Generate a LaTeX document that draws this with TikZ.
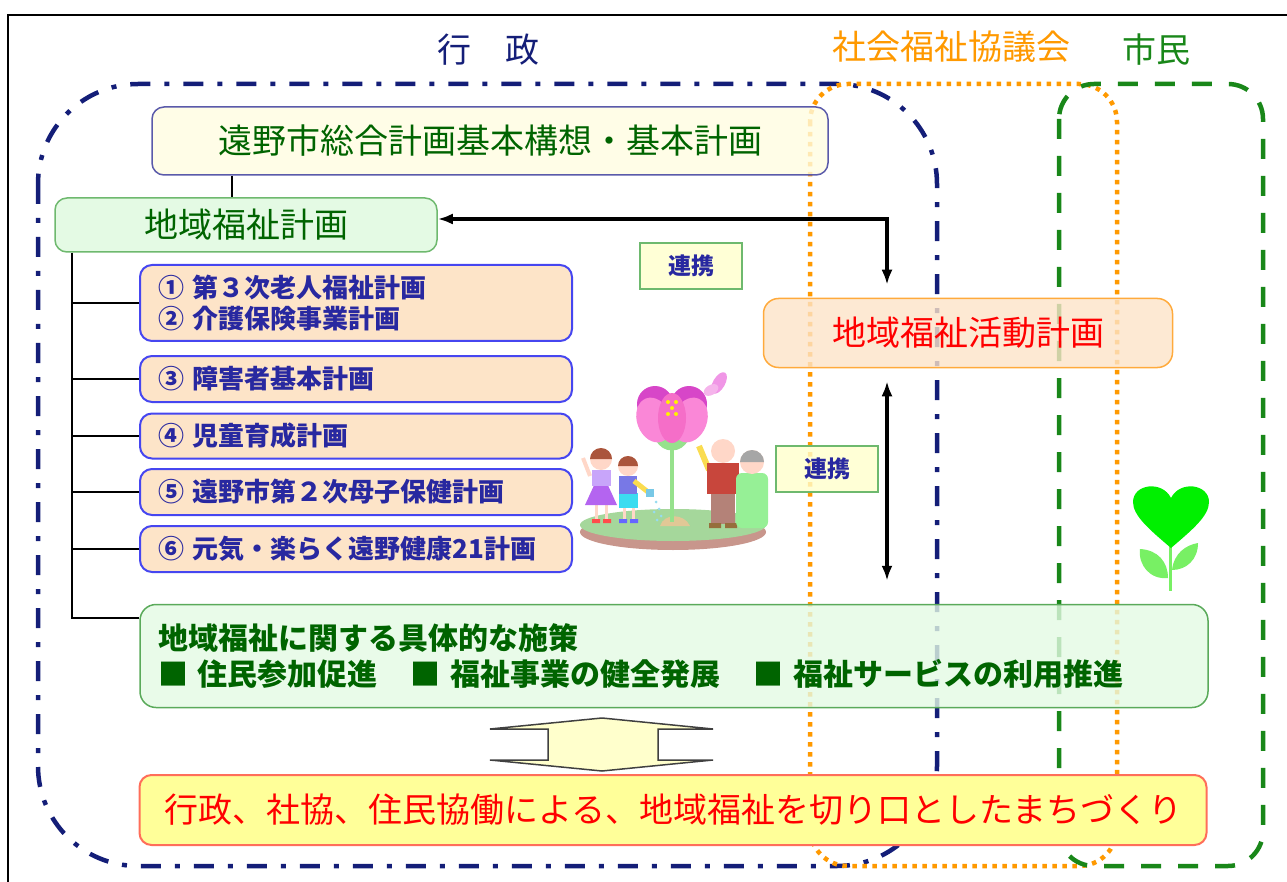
\documentclass[tikz,border=0pt]{standalone}
\usepackage{fontspec}
\setmainfont{Noto Sans CJK JP}
\usepackage{tikz}
\usetikzlibrary{arrows.meta}
\usepackage{xcolor}

\definecolor{gyoseiblue}{RGB}{20,30,120}
\definecolor{shakyoorange}{RGB}{255,153,0}
\definecolor{shimingreen}{RGB}{25,135,25}
\definecolor{plangreen}{RGB}{0,100,0}
\definecolor{planborder}{RGB}{90,90,170}
\definecolor{itemblue}{RGB}{40,40,160}
\definecolor{itemborder}{RGB}{70,70,240}
\definecolor{peach}{RGB}{253,228,200}
\definecolor{peachborder}{RGB}{255,170,60}
\definecolor{cream}{RGB}{255,253,225}
\definecolor{paleyellow}{RGB}{255,255,204}
\definecolor{lemon}{RGB}{255,255,153}
\definecolor{redborder}{RGB}{255,110,90}
\definecolor{palegreen}{RGB}{228,250,228}
\definecolor{midgreen}{RGB}{110,185,110}
\definecolor{sesakuborder}{RGB}{90,170,90}
\definecolor{skin}{RGB}{255,215,200}
\definecolor{groundrim}{RGB}{200,150,140}
\definecolor{ground}{RGB}{165,215,155}
\definecolor{sand}{RGB}{225,200,150}
\definecolor{stem}{RGB}{150,225,140}
\definecolor{petaldark}{RGB}{215,70,200}
\definecolor{petal}{RGB}{250,135,215}
\definecolor{petalmid}{RGB}{245,110,200}
\definecolor{wing}{RGB}{240,150,230}
\definecolor{wingpale}{RGB}{245,180,235}
\definecolor{hair}{RGB}{170,85,60}
\definecolor{dress}{RGB}{180,100,240}
\definecolor{blouse}{RGB}{200,165,250}
\definecolor{shorts}{RGB}{60,220,240}
\definecolor{shirt}{RGB}{120,120,230}
\definecolor{sleeve}{RGB}{250,220,80}
\definecolor{can}{RGB}{120,200,230}
\definecolor{drop}{RGB}{150,220,240}
\definecolor{vest}{RGB}{200,70,60}
\definecolor{trousers}{RGB}{180,130,120}
\definecolor{shoe}{RGB}{150,110,60}
\definecolor{gown}{RGB}{150,240,150}
\definecolor{leaf}{RGB}{120,240,100}
\definecolor{heart}{RGB}{0,240,0}

\begin{document}
\begin{tikzpicture}[x=1pt, y=-1pt,
    planbox/.style={draw, line width=1.5pt, rounded corners=12pt, inner sep=0pt, align=center,
        font=\fontsize{34}{40}\selectfont},
    itembox/.style={draw=itemborder, fill=peach, line width=2pt, rounded corners=12pt,
        minimum width=432pt, text width=396pt, inner xsep=18pt, inner ysep=0pt, align=left,
        text=itemblue, font=\fontsize{26}{31}\selectfont\bfseries},
    renkeibox/.style={draw=midgreen, fill=paleyellow, line width=1.8pt, minimum width=102pt,
        minimum height=46pt, fill opacity=0.8, text opacity=1, text=itemblue,
        font=\fontsize{23}{26}\selectfont\bfseries},
    see/.style={fill opacity=0.8, text opacity=1},
    treeline/.style={line width=2.5pt},
    link/.style={line width=4pt, {Latex[length=15pt,width=11pt]}-{Latex[length=15pt,width=11pt]}}]
    \useasboundingbox (0,0) rectangle (1287,882);
    \draw[line width=2pt] (8,882) -- (8,15) -- (1287,15);

    \draw[gyoseiblue, line width=4.5pt, dash pattern=on 20pt off 14pt on 5pt off 14pt,
        rounded corners=100pt] (38,84) rectangle (937,866);
    \draw[shakyoorange, line width=4.5pt, dash pattern=on 4.5pt off 5.5pt,
        rounded corners=38pt] (810,84) rectangle (1117,866);
    \draw[shimingreen, line width=4.5pt, dash pattern=on 20pt off 17pt,
        rounded corners=35pt] (1059,84) rectangle (1263,866);

    \node[text=gyoseiblue, font=\fontsize{34}{40}\selectfont] (gyosei) at (488,50) {行　政};
    \node[text=shakyoorange, font=\fontsize{34}{40}\selectfont] (shakyo) at (951,47) {社会福祉協議会};
    \node[text=shimingreen, font=\fontsize{34}{40}\selectfont] (shimin) at (1156,50) {市民};

    \node[planbox, see, fill=cream, draw=planborder, text=plangreen,
        minimum width=676pt, minimum height=68pt] (kihon) at (490,141) {遠野市総合計画基本構想・基本計画};
    \node[planbox, fill=palegreen, draw=midgreen, text=plangreen,
        minimum width=382pt, minimum height=54pt] (chiiki) at (246,225) {地域福祉計画};

    \node[itembox, minimum height=76pt] (item1) at (356,303) {① 第３次老人福祉計画\\② 介護保険事業計画};
    \node[itembox, minimum height=46pt] (item2) at (356,379) {③ 障害者基本計画};
    \node[itembox, minimum height=45pt] (item3) at (356,436) {④ 児童育成計画};
    \node[itembox, minimum height=46pt] (item4) at (356,492) {⑤ 遠野市第２次母子保健計画};
    \node[itembox, minimum height=46pt] (item5) at (356,549) {⑥ 元気・楽らく遠野健康21計画};

    \node[renkeibox] (renkei1) at (691,266) {連携};
    \node[renkeibox] (renkei2) at (827,469) {連携};

    \node[planbox, see, fill=peach, draw=peachborder, text=red,
        rounded corners=15pt, minimum width=409pt, minimum height=69pt] (katsudo) at (968,333) {地域福祉活動計画};

    \node[draw=sesakuborder, see, fill=palegreen, line width=1.5pt, rounded corners=16pt,
        minimum width=1068pt, minimum height=103pt, text width=1032pt, inner xsep=18pt, inner ysep=0pt,
        align=left, text=plangreen, font=\fontsize{30}{36}\selectfont\bfseries] (sesaku) at (674,656)
        {地域福祉に関する具体的な施策\\■ 住民参加促進\hspace{1.1em}■ 福祉事業の健全発展\hspace{1.1em}■ 福祉サービスの利用推進};

    \node[planbox, fill=lemon, draw=redborder, line width=2pt, text=red, font=\fontsize{34}{40}\selectfont,
        minimum width=1067pt, minimum height=70pt] (machi) at (673,810)
        {行政、社協、住民協働による、地域福祉を切り口としたまちづくり};

    \draw[line width=2pt] (232,0 |- kihon.south) -- (232,0 |- chiiki.north);
    \draw[treeline] (72,0 |- chiiki.south) -- (72,618) -- (sesaku.west |- 0,618);
    \foreach \n in {item1,item2,item3,item4,item5}
        \draw[treeline] (72,0 |- \n.west) -- (\n.west);
    \draw[link, shorten >=13pt] (chiiki.east |- 0,219) -| (887,0 |- katsudo.north);
    \draw[link, shorten <=13pt, shorten >=23pt] (887,0 |- katsudo.south) -- (887,0 |- sesaku.north);

    \draw[line width=1.5pt, draw=black!75, fill=paleyellow] (602,718) -- (713,729) -- (658,729)
        -- (658,760) -- (713,760) -- (602,771) -- (490,760) -- (548,760) -- (548,729) -- (490,729) -- cycle;

    % flower and people
    \fill[groundrim] (673,532) ellipse [x radius=93pt, y radius=18pt];
    \fill[ground] (673,525) ellipse [x radius=93pt, y radius=16pt];
    \fill[sand] (660,526) .. controls (664,513) and (684,513) .. (690,526) -- cycle;
    \draw[line width=4pt, stem] (672,446) -- (672,522);
    \fill[stem] (656,440) .. controls (662,454) and (682,454) .. (688,440) -- cycle;
    \fill[petaldark] (655,404) circle (18pt) (689,404) circle (18pt);
    \fill[petal] (654,420) ellipse [x radius=17pt, y radius=23pt, rotate=20];
    \fill[petal] (690,420) ellipse [x radius=17pt, y radius=23pt, rotate=-20];
    \fill[petalmid] (672,418) ellipse [x radius=14pt, y radius=25pt];
    \foreach \p in {(668,402),(676,402),(672,408),(668,414),(676,414)}
        \fill[yellow] \p circle (2pt);
    \fill[wing] (719,383) ellipse [x radius=6pt, y radius=12pt, rotate=-30];
    \fill[wingpale] (711,390) ellipse [x radius=5pt, y radius=8pt, rotate=-60];

    \draw[line width=4pt, skin] (590,476) -- (583,458);
    \draw[line width=3pt, skin] (596,504) -- (596,520) (606,504) -- (606,520);
    \fill[dress] (601,470) -- (585,505) -- (617,505) -- cycle;
    \fill[blouse] (592,470) rectangle (611,486);
    \fill[skin] (601,459) circle (11pt);
    \fill[hair] (590,459) arc[start angle=180, end angle=0, radius=11pt] -- cycle;
    \fill[red!70] (592,519) rectangle (600,523) (603,519) rectangle (611,523);

    \draw[line width=3pt, skin] (624,506) -- (624,520) (633,506) -- (633,520);
    \fill[shorts] (619,493) rectangle (638,508);
    \fill[shirt] (619,476) rectangle (637,494);
    \draw[line width=5pt, sleeve] (634,481) -- (648,492);
    \fill[can] (646,489) rectangle (654,497);
    \foreach \p in {(656,502),(659,509),(654,512),(661,516),(657,520)}
        \fill[drop] \p circle (1.5pt);
    \fill[skin] (628,466) circle (10pt);
    \fill[hair] (618,466) arc[start angle=180, end angle=0, radius=10pt] -- cycle;
    \fill[blue!60] (619,519) rectangle (627,523) (630,519) rectangle (638,523);

    \draw[line width=6pt, sleeve] (709,470) -- (699,446);
    \fill[trousers] (711,492) rectangle (735,524);
    \fill[vest] (707,463) rectangle (739,494);
    \fill[skin] (723,451) circle (12pt);
    \fill[shoe] (709,523) rectangle (721,528) (725,523) rectangle (737,528);

    \fill[gown, rounded corners=6pt] (736,473) rectangle (768,528);
    \fill[skin] (752,462) circle (12pt);
    \fill[gray!70] (740,462) arc[start angle=180, end angle=0, radius=12pt] -- cycle;

    % heart plant
    \draw[line width=3pt, leaf] (1170,540) -- (1170,591);
    \fill[leaf] (1168,578) .. controls (1150,580) and (1138,565) .. (1140,549)
        .. controls (1158,550) and (1168,562) .. (1168,578);
    \fill[leaf] (1172,570) .. controls (1174,553) and (1186,545) .. (1198,543)
        .. controls (1198,560) and (1186,570) .. (1172,570);
    \fill[heart] (1171,548) .. controls (1150,530) and (1133,516) .. (1133,502)
        .. controls (1133,484) and (1162,480) .. (1171,498) .. controls (1180,480) and (1209,484) .. (1209,502)
        .. controls (1209,516) and (1192,530) .. (1171,548);
\end{tikzpicture}
\end{document}
